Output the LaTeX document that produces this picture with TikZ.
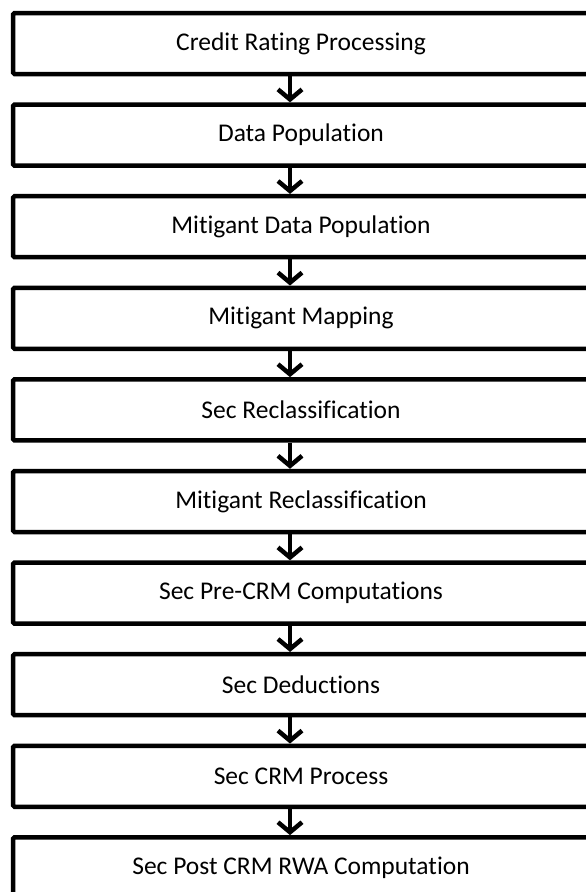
\documentclass[tikz,border=0pt]{standalone}
\usepackage{fontspec}
\setmainfont{Carlito}[Ligatures=NoCommon]
\usetikzlibrary{arrows.meta}

\begin{document}
\begin{tikzpicture}[x=1pt,y=1pt,line width=4.5pt,
  procbox/.style={draw,rounded corners=1.5pt,minimum width=576pt,minimum height=61pt,
    inner sep=0pt,font=\fontsize{25.5}{28}\selectfont},
  flow/.style={-{Straight Barb[length=10pt,width=24pt]}}]
  \useasboundingbox (0,0) rectangle (586,-892);

  \node[procbox] (credit) at (301,-43.5) {Credit Rating Processing};
  \node[procbox] (datapop) at (301,-135.1) {Data Population};
  \node[procbox] (mitdata) at (301,-226.7) {Mitigant Data Population};
  \node[procbox] (mitmap) at (301,-318.3) {Mitigant Mapping};
  \node[procbox] (secrecl) at (301,-409.9) {Sec Reclassification};
  \node[procbox] (mitrecl) at (301,-501.5) {Mitigant Reclassification};
  \node[procbox] (precrm) at (301,-593.1) {Sec Pre-CRM Computations};
  \node[procbox] (deduct) at (301,-684.7) {Sec Deductions};
  \node[procbox] (crmproc) at (301,-776.3) {Sec CRM Process};
  \node[procbox] (postcrm) at (301,-867.9) {Sec Post CRM RWA Computation};

  \draw[flow] ([xshift=-11pt]credit.south) -- ([xshift=-11pt]datapop.north);
  \draw[flow] ([xshift=-11pt]datapop.south) -- ([xshift=-11pt]mitdata.north);
  \draw[flow] ([xshift=-11pt]mitdata.south) -- ([xshift=-11pt]mitmap.north);
  \draw[flow] ([xshift=-11pt]mitmap.south) -- ([xshift=-11pt]secrecl.north);
  \draw[flow] ([xshift=-11pt]secrecl.south) -- ([xshift=-11pt]mitrecl.north);
  \draw[flow] ([xshift=-11pt]mitrecl.south) -- ([xshift=-11pt]precrm.north);
  \draw[flow] ([xshift=-11pt]precrm.south) -- ([xshift=-11pt]deduct.north);
  \draw[flow] ([xshift=-11pt]deduct.south) -- ([xshift=-11pt]crmproc.north);
  \draw[flow] ([xshift=-11pt]crmproc.south) -- ([xshift=-11pt]postcrm.north);
\end{tikzpicture}
\end{document}
